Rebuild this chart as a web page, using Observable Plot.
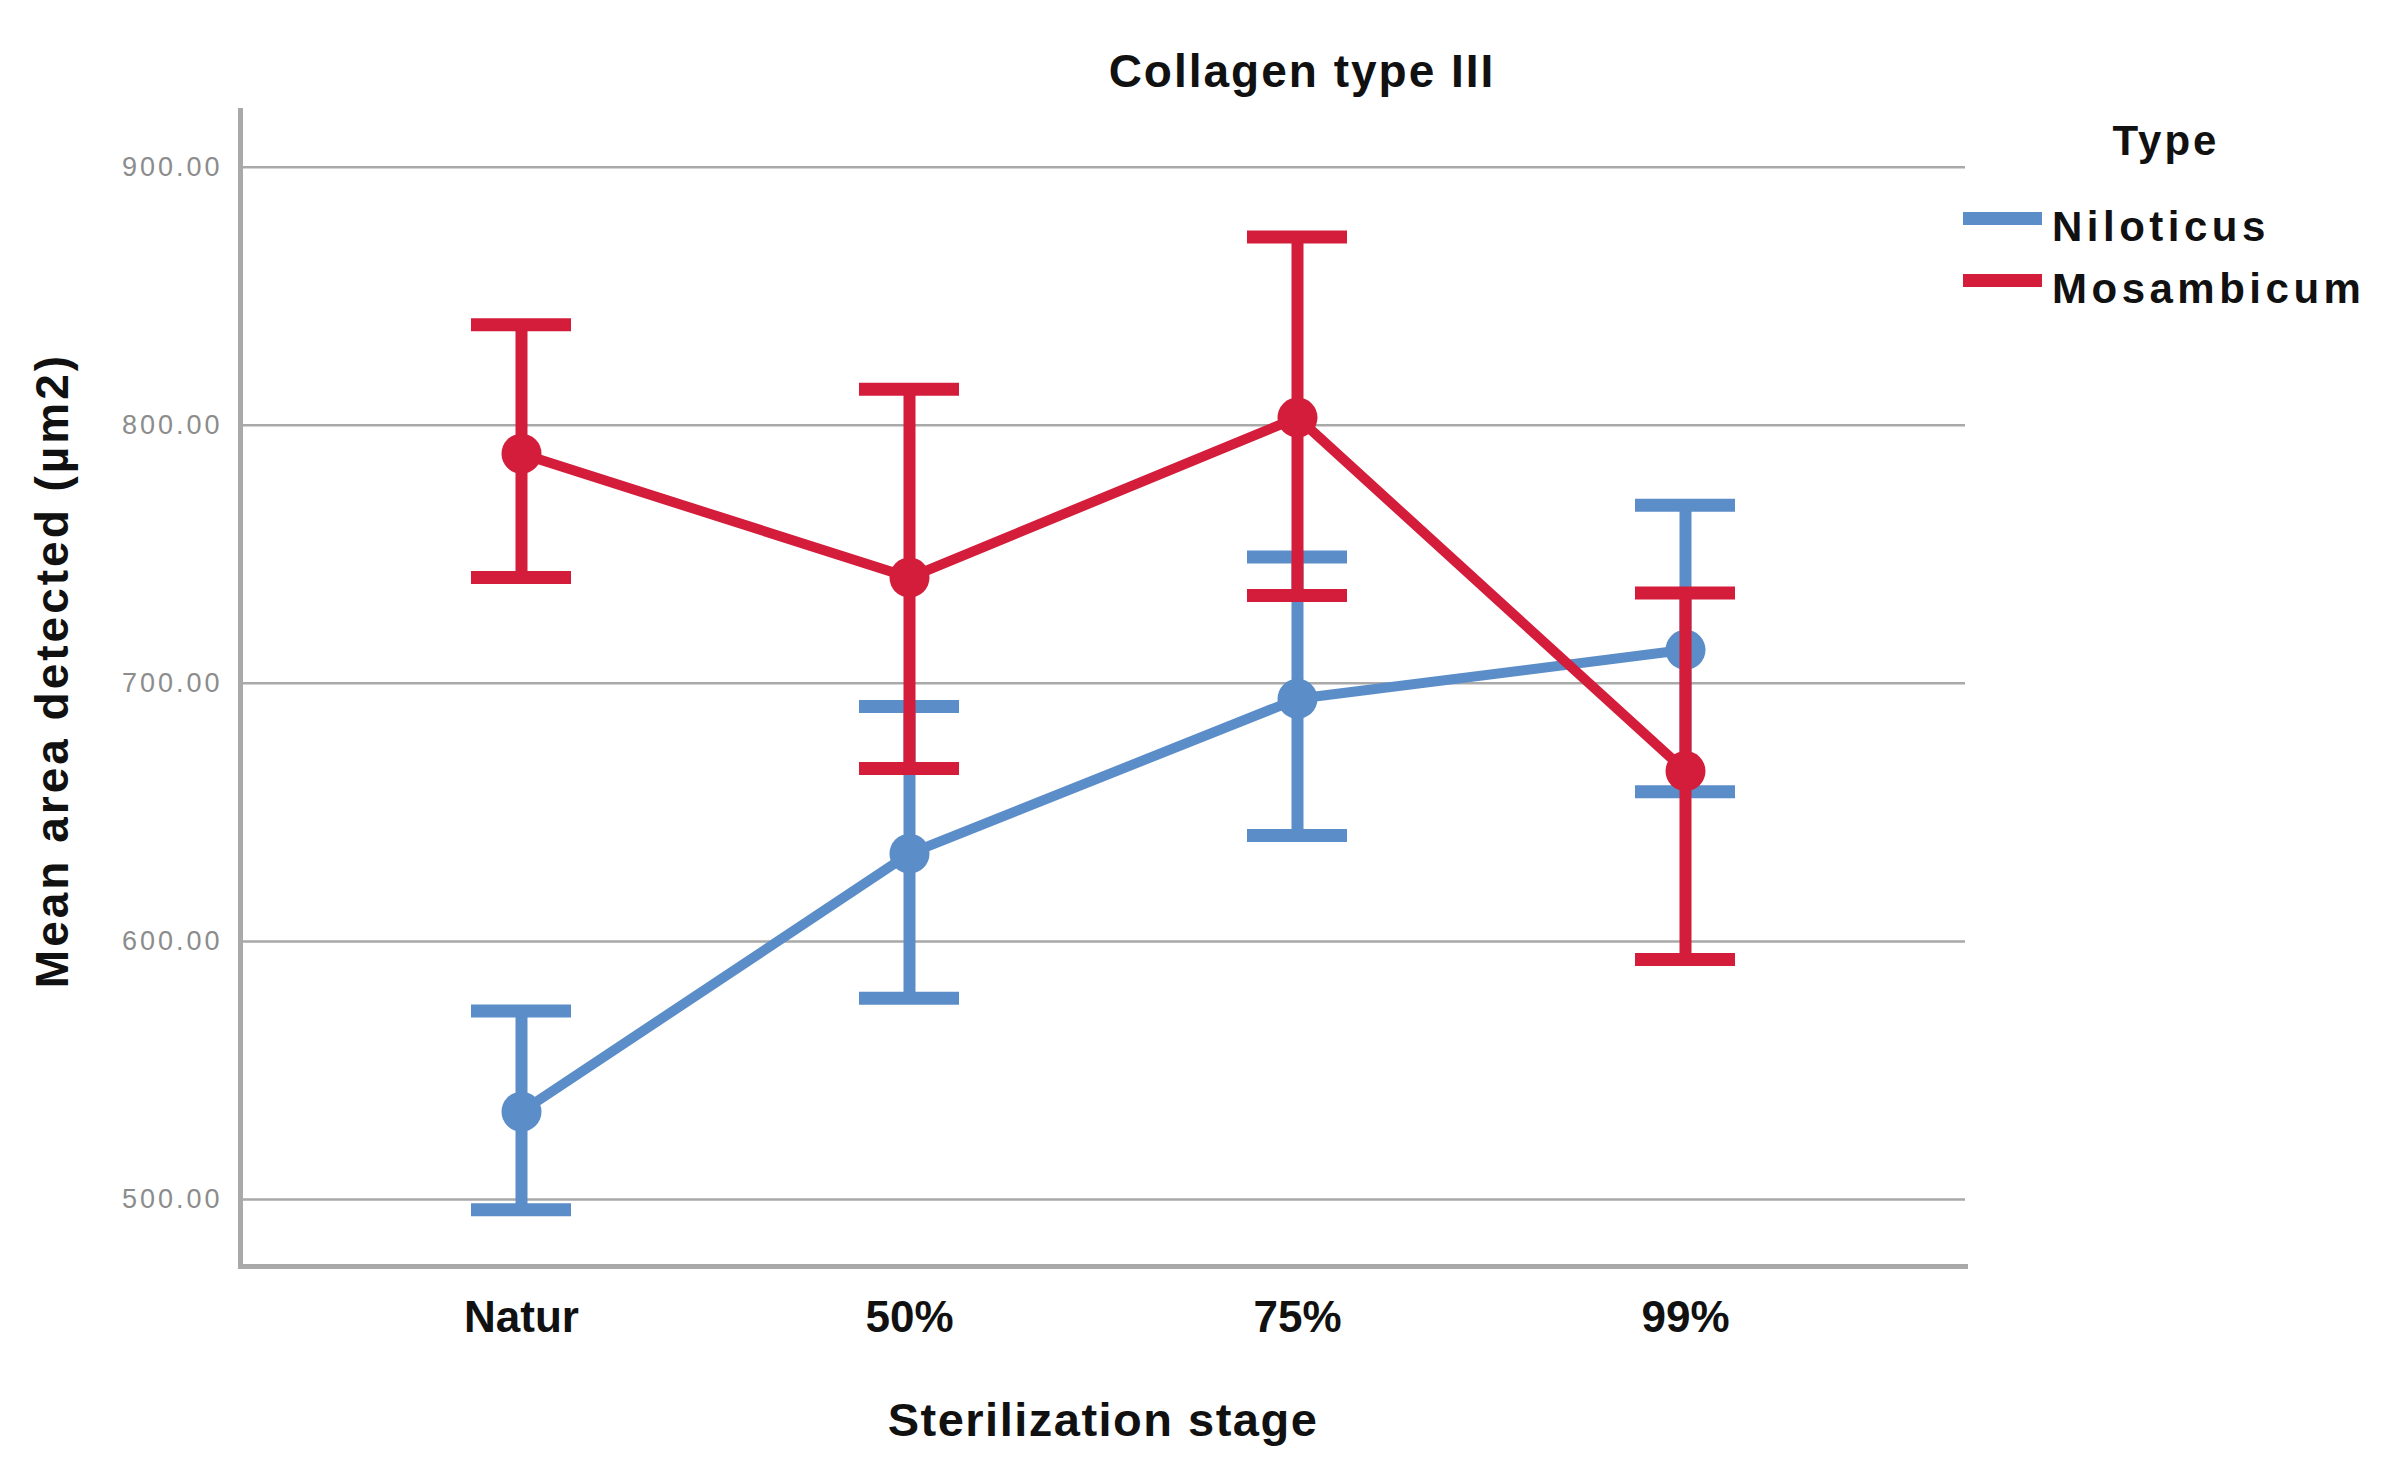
<!DOCTYPE html>
<html>
<head>
<meta charset="utf-8">
<script src="https://cdn.jsdelivr.net/npm/d3@7"></script>
<script src="https://cdn.jsdelivr.net/npm/@observablehq/plot@0.6"></script>
<style>
  html, body { margin: 0; padding: 0; background: #ffffff; }
  #wrap { position: relative; width: 2386px; height: 1484px; overflow: hidden; font-family: "Liberation Sans", Arial, sans-serif; color: #111; }
  #chart { position: absolute; left: 0; top: 0; }
  .ovl { position: absolute; line-height: 1; white-space: nowrap; font-weight: bold; }
  #title { left: 802px; width: 1000px; top: 48px; text-align: center; font-size: 46px; letter-spacing: 2px; }
  #legTitle { left: 2066px; width: 200px; top: 120px; text-align: center; font-size: 42px; letter-spacing: 3px; }
  .legLab { left: 2052px; font-size: 42px; letter-spacing: 4.5px; }
  .sw { position: absolute; left: 1963px; width: 79px; height: 13px; }
  [aria-label="y-axis tick label"] text { letter-spacing: 3px; }
</style>
</head>
<body>
<div id="wrap">
  <div id="chart"></div>
  <div id="title" class="ovl"></div>
  <div id="legend"></div>
</div>
<script>
// ---- data ----
const chartTitle = "Collagen type III";
const xTitle = "Sterilization stage";
const yTitle = "Mean area detected (µm2)";
const legendTitle = "Type";
const stages = ["Natur", "50%", "75%", "99%"];
const types = ["Niloticus", "Mosambicum"];
const colors = ["#5B8DC8", "#D31D3B"];
const niloticusMean = [534, 634, 694, 713];
const niloticusLow  = [496, 578, 641, 658];
const niloticusHigh = [573, 691, 749, 769];
const mosambicumMean = [789, 741, 803, 666];
const mosambicumLow  = [741, 667, 734, 593];
const mosambicumHigh = [839, 814, 873, 735];
const yTicks = [500, 600, 700, 800, 900];

const series = {
  Niloticus: {mean: niloticusMean, low: niloticusLow, high: niloticusHigh},
  Mosambicum: {mean: mosambicumMean, low: mosambicumLow, high: mosambicumHigh}
};
const rows = types.flatMap(t => stages.map((s, i) => ({
  type: t, stage: s, mean: series[t].mean[i], low: series[t].low[i], high: series[t].high[i]
})));

const seriesMarks = types.flatMap(t => {
  const d = rows.filter(r => r.type === t);
  return [
    Plot.ruleX(d, {x: "stage", y1: "low", y2: "high", stroke: "type", strokeWidth: 12}),
    Plot.tickY(d, {x: "stage", y: "low", stroke: "type", strokeWidth: 13}),
    Plot.tickY(d, {x: "stage", y: "high", stroke: "type", strokeWidth: 13}),
    Plot.line(d, {x: "stage", y: "mean", stroke: "type", strokeWidth: 10}),
    Plot.dot(d, {x: "stage", y: "mean", fill: "type", r: 20})
  ];
});

const plot = Plot.plot({
  width: 2386,
  height: 1484,
  marginLeft: 240,
  marginRight: 421,
  marginTop: 110,
  marginBottom: 218,
  style: {fontFamily: "Liberation Sans, Arial, sans-serif", background: "#ffffff", color: "#111"},
  x: {type: "band", domain: stages, paddingInner: 0.743, paddingOuter: 0.5915, label: null},
  y: {domain: [474, 922], label: null},
  color: {domain: types, range: colors},
  marks: [
    Plot.ruleY(yTicks, {stroke: "#a9a9a9", strokeWidth: 2.5}),
    Plot.frame({anchor: "left", stroke: "#a9a9a9", strokeWidth: 5}),
    Plot.frame({anchor: "bottom", stroke: "#a9a9a9", strokeWidth: 5}),
    Plot.axisY({ticks: yTicks, tickSize: 0, tickPadding: 18, tickFormat: d3.format(".2f"), fontSize: 27, fill: "#8c8c8c", label: null}),
    Plot.axisX({tickSize: 0, tickPadding: 34, fontSize: 44, fontWeight: "bold", label: null}),
    Plot.text([xTitle], {frameAnchor: "bottom", dy: 154, fontSize: 47, fontWeight: "bold", lineAnchor: "middle", textAnchor: "middle"}),
    Plot.text([yTitle], {frameAnchor: "left", dx: -187, dy: -18, rotate: -90, fontSize: 46, fontWeight: "bold", lineAnchor: "middle", textAnchor: "middle"}),
    ...seriesMarks
  ]
});
d3.select(plot).selectAll("text")
  .filter(function() { return this.textContent === yTitle; })
  .style("letter-spacing", "3px");
d3.select(plot).selectAll("text")
  .filter(function() { return this.textContent === xTitle; })
  .style("letter-spacing", "1.5px");
document.getElementById("chart").appendChild(plot);

// title
document.getElementById("title").textContent = chartTitle;

// legend
const leg = document.getElementById("legend");
const lt = document.createElement("div");
lt.id = "legTitle"; lt.className = "ovl"; lt.textContent = legendTitle;
leg.appendChild(lt);
const legTops = [206, 268];
const swTops = [212, 274];
types.forEach((t, i) => {
  const sw = document.createElement("div");
  sw.className = "sw";
  sw.style.top = swTops[i] + "px";
  sw.style.background = colors[i];
  leg.appendChild(sw);
  const lab = document.createElement("div");
  lab.className = "ovl legLab";
  lab.style.top = legTops[i] + "px";
  lab.textContent = t;
  leg.appendChild(lab);
});
</script>
</body>
</html>
